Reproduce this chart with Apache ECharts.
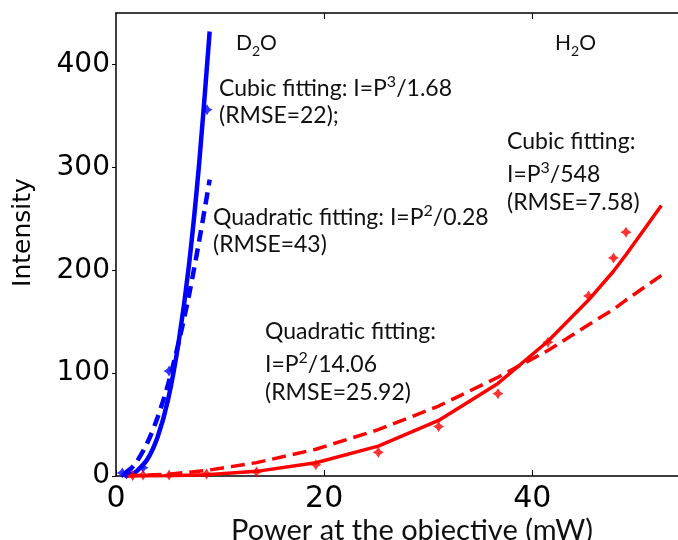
<!DOCTYPE html>
<html>
<head>
<meta charset="utf-8">
<script src="https://cdn.jsdelivr.net/npm/echarts@6/dist/echarts.min.js"></script>
<style>
html,body{margin:0;padding:0;background:#fff;}
#chart{width:678px;height:540px;}
</style>
</head>
<body>
<div id="chart"></div>
<script>
// ---- data ----
const xTicks = [0, 20, 40];
const yTicks = [0, 100, 200, 300, 400];

// D2O measured points
const d2oP = [0.6, 1.0, 2.6, 5.1, 8.75];
const d2oI = [3, 2, 8, 102, 356];
// D2O fitted curves
const d2oFitP = [0.8, 1.5, 2, 3, 4, 5, 6, 7, 8, 9];
const d2oCubic = [0.3, 2, 4.8, 16, 38, 74, 129, 204, 305, 432];
const d2oQuad = [2.3, 8, 14, 32, 57, 89, 129, 175, 229, 288];

// H2O measured points
const h2oP = [1.6, 2.6, 5.1, 8.7, 13.5, 19.2, 25.2, 31.0, 36.7, 41.5, 45.4, 47.8, 49.0];
const h2oI = [0.5, 1, 1, 2, 4, 11, 23, 48, 80, 130, 175, 212, 237];
// H2O fitted curves
const h2oFitP = [1.0, 5.1, 8.7, 13.5, 19.2, 25.2, 31.0, 36.7, 41.5, 45.4, 47.8, 49.0, 52.4];
const h2oCubic = [0, 0.2, 1.2, 4.5, 12.9, 29, 54, 90, 131, 171, 199, 215, 263];
const h2oQuad = [0.1, 1.8, 5.4, 13, 26, 45, 68, 96, 122, 147, 162, 171, 195];

const pairs = (xs, ys) => xs.map((x, i) => [x, ys[i]]);

const BLUE = '#0000ff', RED = '#ff0000';
const star = 'path://M0,-1L0.38,-0.38L1,0L0.38,0.38L0,1L-0.38,0.38L-1,0L-0.38,-0.38Z';
const AFONT = 'Lato';

function note(x, y, text, size) {
  size = size || 23;
  return {
    type: 'text', left: x, top: y, z: 10,
    style: {
      text: text, fill: '#111', fontFamily: AFONT, fontSize: size,
      rich: {
        n: { fontFamily: AFONT, fontSize: size, lineHeight: 30, verticalAlign: 'middle', fill: '#111' },
        sup: { fontFamily: AFONT, fontSize: Math.round(size * 0.68), lineHeight: 16, verticalAlign: 'top', fill: '#111' },
        sub: { fontFamily: AFONT, fontSize: Math.round(size * 0.65), lineHeight: 14, verticalAlign: 'bottom', fill: '#111' }
      }
    }
  };
}

const chart = echarts.init(document.getElementById('chart'), null, { renderer: 'canvas' });
chart.setOption({
  animation: false,
  backgroundColor: '#fff',
  grid: { left: 116, right: 0, top: 13, bottom: 64, containLabel: false, outerBoundsMode: 'none' },
  xAxis: [{
    type: 'value', min: 0, max: 54, position: 'bottom',
    axisLine: { show: true, onZero: false, lineStyle: { color: '#000', width: 1.5 } },
    axisTick: { show: true, inside: true, length: 6, customValues: xTicks, lineStyle: { color: '#000' } },
    axisLabel: { customValues: xTicks, color: '#000', fontFamily: 'DejaVu Sans', fontSize: 30, margin: 8 },
    splitLine: { show: false },
    name: 'Power at the objective (mW)', nameLocation: 'middle', nameGap: 40, nameMoveOverlap: false,
    nameTextStyle: { fontFamily: AFONT, fontSize: 29, color: '#111', padding: [0, 0, 0, 30] }
  }, {
    type: 'value', min: 0, max: 54, position: 'top',
    axisLine: { show: true, onZero: false, lineStyle: { color: '#000', width: 1.5 } },
    axisTick: { show: true, inside: true, length: 6, customValues: [20, 40], lineStyle: { color: '#000' } },
    axisLabel: { show: false },
    splitLine: { show: false }
  }],
  yAxis: {
    type: 'value', min: 0, max: 450,
    axisLine: { show: true, onZero: false, lineStyle: { color: '#000', width: 1.5 } },
    axisTick: { show: true, inside: false, length: 4, customValues: yTicks, lineStyle: { color: '#000' } },
    axisLabel: { customValues: yTicks, color: '#000', fontFamily: 'DejaVu Sans', fontSize: 28, margin: 6 },
    splitLine: { show: false },
    name: 'Intensity', nameLocation: 'middle', nameGap: 80, nameMoveOverlap: false,
    nameTextStyle: { fontFamily: 'DejaVu Sans', fontSize: 25, color: '#000', padding: [0, 0, 0, 24] }
  },
  series: [
    { name: 'D2O cubic', type: 'line', data: pairs(d2oFitP, d2oCubic), smooth: 0.3, showSymbol: false,
      lineStyle: { color: BLUE, width: 4.5 }, z: 3 },
    { name: 'D2O quad', type: 'line', data: pairs(d2oFitP, d2oQuad), smooth: 0.3, showSymbol: false,
      lineStyle: { color: BLUE, width: 4.5, type: [12, 7] }, z: 3 },
    { name: 'D2O data', type: 'scatter', data: pairs(d2oP, d2oI), symbol: star, symbolSize: 11,
      itemStyle: { color: BLUE }, z: 4 },
    { name: 'H2O cubic', type: 'line', data: pairs(h2oFitP, h2oCubic), smooth: false, showSymbol: false,
      lineStyle: { color: RED, width: 3.5 }, z: 3 },
    { name: 'H2O quad', type: 'line', data: pairs(h2oFitP, h2oQuad), smooth: false, showSymbol: false,
      lineStyle: { color: RED, width: 3.5, type: [14, 7] }, z: 3 },
    { name: 'H2O data', type: 'scatter', data: pairs(h2oP, h2oI), symbol: star, symbolSize: 11,
      itemStyle: { color: RED }, z: 4 }
  ],
  graphic: [
    note(236, 33, '{n|D}{sub|2}{n|O}', 21),
    note(219, 74, '{n|Cubic fitting: I=P}{sup|3}{n|/1.68}'),
    note(219, 104, '{n|(RMSE=22);}'),
    note(213, 203, '{n|Quadratic fitting: I=P}{sup|2}{n|/0.28}'),
    note(213, 233, '{n|(RMSE=43)}'),
    note(555, 33, '{n|H}{sub|2}{n|O}', 21),
    note(507, 130, '{n|Cubic fitting:}'),
    note(507, 160, '{n|I=P}{sup|3}{n|/548}'),
    note(507, 191, '{n|(RMSE=7.58)}'),
    note(265, 320, '{n|Quadratic fitting:}'),
    note(265, 350, '{n|I=P}{sup|2}{n|/14.06}'),
    note(265, 381, '{n|(RMSE=25.92)}')
  ]
});
</script>
</body>
</html>
